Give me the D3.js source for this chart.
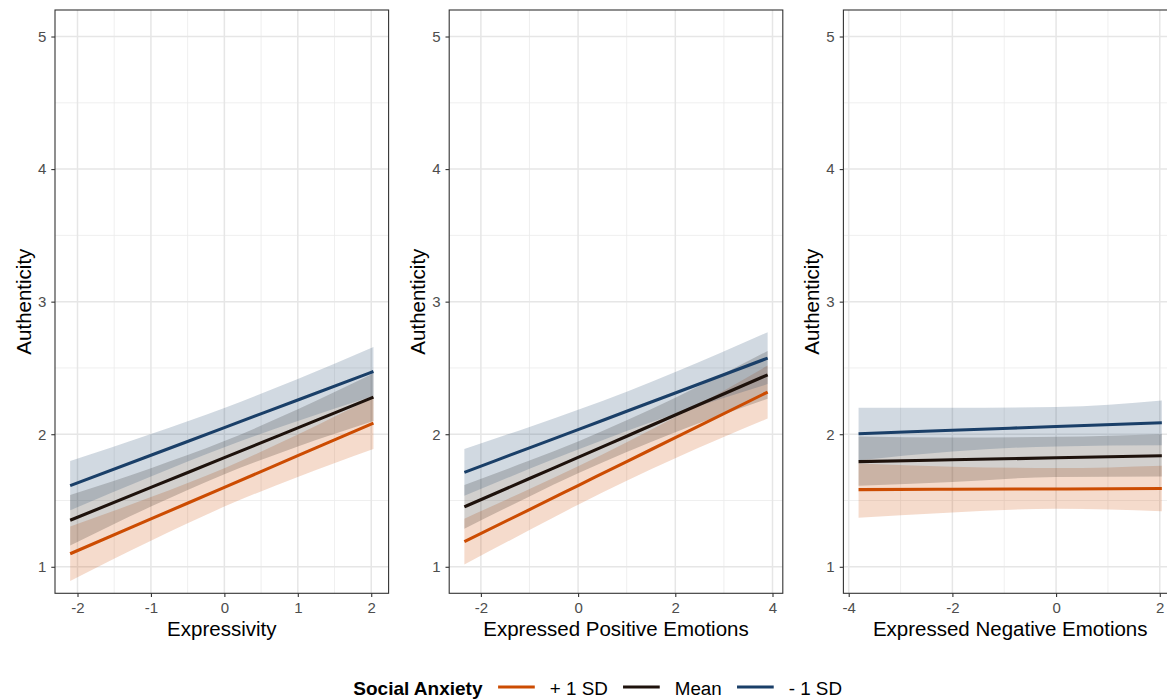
<!DOCTYPE html>
<html>
<head>
<meta charset="utf-8">
<script src="https://cdn.jsdelivr.net/npm/d3@7"></script>
<style>
  html, body { margin: 0; padding: 0; background: #ffffff; }
  svg { display: block; font-family: "Liberation Sans", Arial, Helvetica, sans-serif; }
</style>
</head>
<body>
<svg id="chart" width="1167" height="700"></svg>
<script>
// ---------------- DATA ----------------
const seriesNames = ["+ 1 SD", "Mean", "- 1 SD"];
const seriesColors = ["#CC4C02", "#1E120C", "#1A3F68"];
const legendTitle = "Social Anxiety";
const yTitle = "Authenticity";
const yTicks = [1, 2, 3, 4, 5];
const yMinor = [1.5, 2.5, 3.5, 4.5];
const yLimits = [1, 5];

// Panel 1: Expressivity
const p1Title = "Expressivity";
const p1X = [-2.1, -1, 0, 1, 2.03];
const p1Fit = [
  [1.098, 1.361, 1.599, 1.838, 2.084],
  [1.351, 1.599, 1.823, 2.048, 2.280],
  [1.612, 1.841, 2.050, 2.258, 2.473]
];
const p1Lower = [
  [0.893, 1.196, 1.454, 1.678, 1.889],
  [1.161, 1.454, 1.698, 1.908, 2.100],
  [1.426, 1.681, 1.902, 2.100, 2.289]
];
const p1Upper = [
  [1.303, 1.526, 1.744, 1.998, 2.279],
  [1.541, 1.744, 1.948, 2.188, 2.460],
  [1.798, 2.001, 2.198, 2.416, 2.657]
];
const p1Ticks = [-2, -1, 0, 1, 2];
const p1Minor = [-1.5, -0.5, 0.5, 1.5];

// Panel 2: Expressed Positive Emotions
const p2Title = "Expressed Positive Emotions";
const p2X = [-2.34, -1, 0, 1, 2, 3.9];
const p2Fit = [
  [1.190, 1.432, 1.613, 1.794, 1.974, 2.318],
  [1.452, 1.666, 1.825, 1.985, 2.145, 2.448],
  [1.712, 1.897, 2.035, 2.173, 2.311, 2.574]
];
const p2Lower = [
  [1.017, 1.277, 1.468, 1.649, 1.819, 2.118],
  [1.287, 1.531, 1.705, 1.865, 2.015, 2.268],
  [1.535, 1.739, 1.885, 2.025, 2.153, 2.378]
];
const p2Upper = [
  [1.363, 1.587, 1.758, 1.939, 2.129, 2.518],
  [1.617, 1.801, 1.945, 2.105, 2.275, 2.628],
  [1.889, 2.055, 2.185, 2.321, 2.469, 2.770]
];
const p2Ticks = [-2, 0, 2, 4];
const p2Minor = [-1, 1, 3];

// Panel 3: Expressed Negative Emotions
const p3Title = "Expressed Negative Emotions";
const p3X = [-3.81, -2, 0, 2.04];
const p3Fit = [
  [1.582, 1.585, 1.587, 1.590],
  [1.793, 1.807, 1.822, 1.838],
  [2.004, 2.030, 2.058, 2.087]
];
const p3Lower = [
  [1.369, 1.410, 1.437, 1.419],
  [1.612, 1.640, 1.678, 1.682],
  [1.803, 1.870, 1.908, 1.916]
];
const p3Upper = [
  [1.780, 1.755, 1.745, 1.763],
  [1.983, 1.975, 1.980, 2.000],
  [2.200, 2.200, 2.205, 2.255]
];
const p3Ticks = [-4, -2, 0, 2];
const p3Minor = [-3, -1, 1];

const panelsData = [
  { title: p1Title, xs: p1X, fit: p1Fit, lo: p1Lower, hi: p1Upper, ticks: p1Ticks, minor: p1Minor },
  { title: p2Title, xs: p2X, fit: p2Fit, lo: p2Lower, hi: p2Upper, ticks: p2Ticks, minor: p2Minor },
  { title: p3Title, xs: p3X, fit: p3Fit, lo: p3Lower, hi: p3Upper, ticks: p3Ticks, minor: p3Minor }
];

// ---------------- LAYOUT ----------------
const svg = d3.select("#chart");
svg.append("rect").attr("width", 1167).attr("height", 700).attr("fill", "#ffffff");

const plotW = 394.2;
const panelLeft = 55;
const panelW = 333.6;
const panelTop = 10;
const panelBottom = 593.3;
const fontFam = "'Liberation Sans', Arial, sans-serif";

const yPad = (yLimits[1] - yLimits[0]) * 0.05;

panelsData.forEach((p, i) => {
  const ox = i * plotW;
  const x0 = ox + panelLeft, x1 = x0 + panelW;
  const ext = d3.extent(p.xs);
  const xp = (ext[1] - ext[0]) * 0.05;
  const x = d3.scaleLinear().domain([ext[0] - xp, ext[1] + xp]).range([x0, x1]);
  const y = d3.scaleLinear().domain([yLimits[0] - yPad, yLimits[1] + yPad]).range([panelBottom, panelTop]);

  const g = svg.append("g");
  const clipId = "clip" + i;
  g.append("clipPath").attr("id", clipId).append("rect")
    .attr("x", x0).attr("y", panelTop).attr("width", panelW).attr("height", panelBottom - panelTop);

  const grid = g.append("g").attr("clip-path", `url(#${clipId})`);
  // minor grid
  grid.selectAll(".xmin").data(p.minor).enter().append("line")
    .attr("x1", d => x(d)).attr("x2", d => x(d)).attr("y1", panelTop).attr("y2", panelBottom)
    .attr("stroke", "#EBEBEB").attr("stroke-width", 0.8);
  grid.selectAll(".ymin").data(yMinor).enter().append("line")
    .attr("x1", x0).attr("x2", x1).attr("y1", d => y(d)).attr("y2", d => y(d))
    .attr("stroke", "#EBEBEB").attr("stroke-width", 0.8);
  // major grid
  grid.selectAll(".xmaj").data(p.ticks).enter().append("line")
    .attr("x1", d => x(d)).attr("x2", d => x(d)).attr("y1", panelTop).attr("y2", panelBottom)
    .attr("stroke", "#E6E6E6").attr("stroke-width", 1.5);
  grid.selectAll(".ymaj").data(yTicks).enter().append("line")
    .attr("x1", x0).attr("x2", x1).attr("y1", d => y(d)).attr("y2", d => y(d))
    .attr("stroke", "#E6E6E6").attr("stroke-width", 1.5);

  const marks = g.append("g").attr("clip-path", `url(#${clipId})`);
  const area = d3.area().x(d => x(d.x)).y0(d => y(d.lo)).y1(d => y(d.hi)).curve(d3.curveMonotoneX);
  const line = d3.line().x(d => x(d.x)).y(d => y(d.y)).curve(d3.curveMonotoneX);

  seriesNames.forEach((s, k) => {
    const pts = p.xs.map((xv, j) => ({ x: xv, lo: p.lo[k][j], hi: p.hi[k][j] }));
    marks.append("path").attr("d", area(pts)).attr("fill", seriesColors[k]).attr("fill-opacity", 0.2);
  });
  seriesNames.forEach((s, k) => {
    const pts = p.xs.map((xv, j) => ({ x: xv, y: p.fit[k][j] }));
    marks.append("path").attr("d", line(pts)).attr("fill", "none")
      .attr("stroke", seriesColors[k]).attr("stroke-width", 3.1);
  });

  // panel border
  g.append("rect").attr("x", x0).attr("y", panelTop).attr("width", panelW).attr("height", panelBottom - panelTop)
    .attr("fill", "none").attr("stroke", "#333333").attr("stroke-width", 1.1);

  // axes
  const xAxis = d3.axisBottom(x).tickValues(p.ticks).tickSize(3.7).tickPadding(5).tickFormat(d3.format("d"));
  const ax = g.append("g").attr("transform", `translate(0,${panelBottom})`).call(xAxis);
  const yAxis = d3.axisLeft(y).tickValues(yTicks).tickSize(3.7).tickPadding(5).tickFormat(d3.format("d"));
  const ay = g.append("g").attr("transform", `translate(${x0},0)`).call(yAxis);
  [ax, ay].forEach(a => {
    a.attr("font-size", null).attr("font-family", null);
    a.select(".domain").remove();
    a.selectAll(".tick line").attr("stroke", "#333333").attr("stroke-width", 1.1);
    a.selectAll(".tick text").attr("fill", "#4D4D4D").attr("font-size", "15px")
      .attr("font-family", fontFam);
  });
  ax.selectAll(".tick text").text(d => d < 0 ? "-" + Math.abs(d) : d);

  // axis titles
  g.append("text").attr("x", (x0 + x1) / 2).attr("y", 636).attr("text-anchor", "middle")
    .attr("fill", "#000").attr("font-family", fontFam).attr("font-size", "20.5px").text(p.title);
  g.append("text").attr("transform", `translate(${ox + 30.5},${(panelTop + panelBottom) / 2}) rotate(-90)`)
    .attr("text-anchor", "middle").attr("fill", "#000").attr("font-family", fontFam)
    .attr("font-size", "20.5px").text(yTitle);
});

// ---------------- LEGEND ----------------
const leg = svg.append("g").attr("font-family", fontFam);
const legY = 695;
let cx = 353.3;
const t = leg.append("text").attr("x", cx).attr("y", legY).attr("font-weight", "bold")
  .attr("font-size", "19px").attr("fill", "#000").text(legendTitle);
cx += t.node().getComputedTextLength() + 15.6;
seriesNames.forEach((s, k) => {
  leg.append("line").attr("x1", cx).attr("x2", cx + 36.7).attr("y1", legY - 8).attr("y2", legY - 8)
    .attr("stroke", seriesColors[k]).attr("stroke-width", 3.1);
  cx += 36.7 + 15;
  const lt = leg.append("text").attr("x", cx).attr("y", legY).attr("font-size", "18.8px")
    .attr("fill", "#000").text(s);
  cx += lt.node().getComputedTextLength() + 15.3;
});
</script>
</body>
</html>
